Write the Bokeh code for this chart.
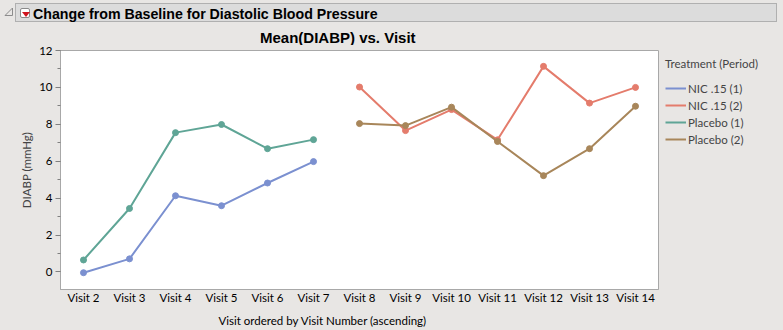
from bokeh.plotting import figure
from bokeh.layouts import column
from bokeh.models import (Range1d, FactorRange, Legend, LegendItem, SingleIntervalTicker,
                          Title, Div)
from bokeh.embed import file_html
from bokeh.resources import INLINE

# ---- data ----
visits = ["Visit 2", "Visit 3", "Visit 4", "Visit 5", "Visit 6", "Visit 7", "Visit 8",
          "Visit 9", "Visit 10", "Visit 11", "Visit 12", "Visit 13", "Visit 14"]
period1_visits = ["Visit 2", "Visit 3", "Visit 4", "Visit 5", "Visit 6", "Visit 7"]
period2_visits = ["Visit 8", "Visit 9", "Visit 10", "Visit 11", "Visit 12", "Visit 13", "Visit 14"]
nic_1 = [-0.04, 0.71, 4.13, 3.59, 4.82, 5.98]
placebo_1 = [0.65, 3.44, 7.55, 7.99, 6.68, 7.17]
nic_2 = [10.02, 7.66, 8.80, 7.16, 11.14, 9.15, 10.00]
placebo_2 = [8.04, 7.93, 8.93, 7.07, 5.22, 6.68, 8.98]
series_names = ["NIC .15 (1)", "NIC .15 (2)", "Placebo (1)", "Placebo (2)"]
series_colors = ["#7b90d0", "#e47c6c", "#5fa596", "#a8865a"]

header_text = "Change from Baseline for Diastolic Blood Pressure"
chart_title = "Mean(DIABP) vs. Visit"
x_title = "Visit ordered by Visit Number (ascending)"
y_title = "DIABP (mmHg)"
legend_title = "Treatment (Period)"

FONT = "Lato"
BOLD_FONT = "Liberation Sans"
BG = "#e8e6e4"
W = 783
HEADER_H = 45

# ---- header (outline box title + chart title) ----
header_html = (
    '<div style="position:relative;width:783px;height:%dpx;background:%s;overflow:hidden;margin:0;padding:0;">'
    '<svg style="position:absolute;left:4px;top:7px" width="10" height="10">'
    '<polygon points="1,8.5 8.5,8.5 8.5,1" fill="none" stroke="#8c8c8c" stroke-width="1"/></svg>'
    '<div style="position:absolute;left:15px;top:3px;width:762px;height:19px;background:#dcdcdc;'
    'border:1px solid #b0b0b0;"></div>'
    '<div style="position:absolute;left:20px;top:8px;width:10px;height:10px;background:white;'
    'border:1px solid #8a8a8a;border-radius:2px;"></div>'
    '<div style="position:absolute;left:22px;top:12px;width:0;height:0;border-left:4px solid transparent;'
    'border-right:4px solid transparent;border-top:5px solid #d0141e;"></div>'
    '<div style="position:absolute;left:33px;top:5px;font-family:\'%s\';font-weight:bold;font-size:14.2px;'
    'line-height:18px;color:black;white-space:nowrap;">%s</div>'
    '<div style="position:absolute;left:260px;top:29px;font-family:\'%s\';font-weight:bold;font-size:15px;'
    'line-height:18px;color:black;white-space:nowrap;">%s</div>'
    '</div>' % (HEADER_H, BG, BOLD_FONT, header_text, BOLD_FONT, chart_title)
)
hd = Div(text=header_html, width=W, height=HEADER_H, margin=0,
         styles={"background-color": BG, "padding": "0", "margin": "0"})

# ---- main plot ----
p = figure(frame_width=598, frame_height=239,
           x_range=FactorRange(factors=visits), y_range=Range1d(-0.95, 12),
           output_backend="svg", toolbar_location=None,
           min_border_left=60, min_border_right=125,
           min_border_top=50 - HEADER_H, min_border_bottom=41)
p.background_fill_color = "white"
p.border_fill_color = BG
p.outline_line_color = "#a8a8a8"
p.xgrid.visible = False
p.ygrid.visible = False

xt = Title(text=x_title, align="left", offset=158, standoff=10,
           text_font=FONT, text_font_size="11.5px", text_font_style="normal",
           text_color="black")
p.add_layout(xt, "below")

ya = p.yaxis[0]
ya.ticker = SingleIntervalTicker(interval=2, num_minor_ticks=2)
ya.axis_line_color = "#a8a8a8"
ya.major_tick_line_color = "#808080"
ya.minor_tick_line_color = "#808080"
ya.major_tick_out = 5
ya.major_tick_in = 0
ya.minor_tick_out = 3
ya.minor_tick_in = 0
ya.major_label_text_font = FONT
ya.major_label_text_font_size = "11.5px"
ya.major_label_text_color = "black"
ya.major_label_standoff = 3
ya.axis_label = y_title
ya.axis_label_text_font = FONT
ya.axis_label_text_font_size = "11.5px"
ya.axis_label_text_font_style = "normal"
ya.axis_label_standoff = 3

xa = p.xaxis[0]
xa.axis_line_color = "#a8a8a8"
xa.major_tick_line_color = None
xa.minor_tick_line_color = None
xa.major_tick_out = 0
xa.major_tick_in = 0
xa.major_label_text_font = FONT
xa.major_label_text_font_size = "11.5px"
xa.major_label_text_color = "black"
xa.major_label_standoff = 1

renderers = []
for xs, ys, col in [(period1_visits, nic_1, series_colors[0]),
                    (period2_visits, nic_2, series_colors[1]),
                    (period1_visits, placebo_1, series_colors[2]),
                    (period2_visits, placebo_2, series_colors[3])]:
    l = p.line(xs, ys, line_color=col, line_width=2)
    p.scatter(xs, ys, size=6, fill_color=col, line_color=col)
    renderers.append(l)

legend = Legend(items=[LegendItem(label=n, renderers=[r]) for n, r in zip(series_names, renderers)],
                title=legend_title, location="top_left")
legend.title_text_font = FONT
legend.title_text_font_size = "11.5px"
legend.title_text_font_style = "normal"
legend.title_standoff = 10
legend.label_text_font = FONT
legend.label_text_font_size = "11.5px"
legend.label_text_line_height = 1.0
legend.glyph_width = 21
legend.glyph_height = 16
legend.label_height = 16
legend.label_standoff = 2
legend.spacing = 1
legend.padding = 8
legend.margin = 7
legend.border_line_color = None
legend.background_fill_alpha = 0
p.add_layout(legend, "right")

layout = column(hd, p, spacing=0)
layout.styles = {"background-color": BG}
open("out.html", "w").write(file_html(layout, INLINE))
